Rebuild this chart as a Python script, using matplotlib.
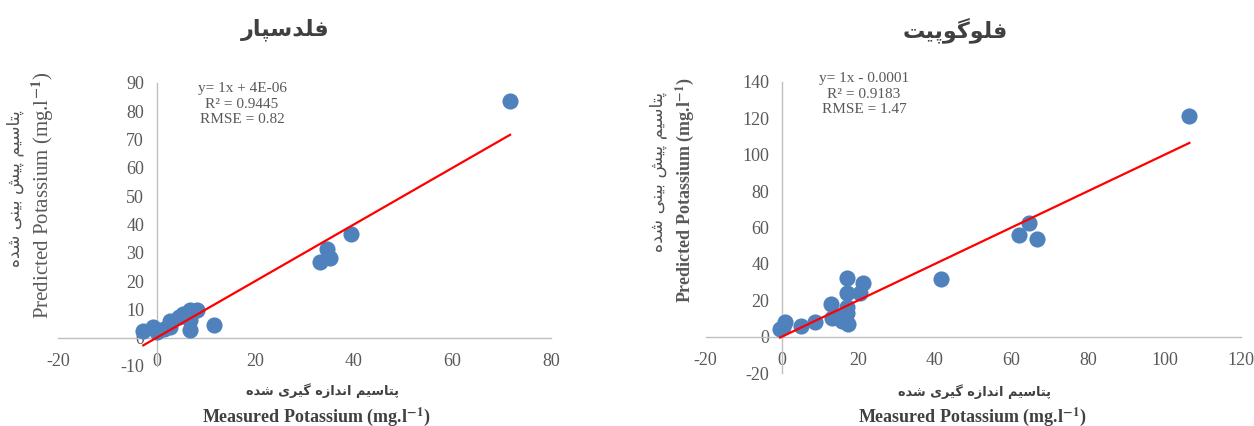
import numpy as np
import matplotlib
matplotlib.use("Agg")
import matplotlib.pyplot as plt

plt.rcParams['mathtext.fontset'] = 'stix'
plt.rcParams['axes.unicode_minus'] = False

# feldspar panel
feld_x = [71.7, 39.4, 34.6, 35.2, 33.1, 11.6, 8.1, 6.7, 6.7, 6.7, 4.6, 2.7, 2.7, 1.5, -0.8, -2.7, 0.0, 5.4]
feld_y = [83.5, 36.8, 31.2, 28.3, 26.8, 4.4, 9.9, 9.7, 6.1, 2.6, 7.3, 5.9, 3.8, 3.2, 3.8, 2.4, 2.0, 8.5]
feld_fit = (1.0, 4e-06)
feld_stats = ["y= 1x + 4E-06", "R² = 0.9445", "RMSE = 0.82"]

# phlogopite panel
phlo_x = [106.5, 64.6, 62.0, 66.7, 41.5, 17.0, 21.1, 17.0, 20.4, 12.9, 17.0, 17.0, 14.7, 13.2, 15.8, 17.3, 8.7, 4.9, 0.8, -0.5, 0.3]
phlo_y = [121.4, 62.6, 55.9, 53.7, 31.5, 32.0, 29.7, 24.2, 24.2, 17.9, 16.5, 12.8, 11.0, 10.1, 8.8, 7.0, 7.9, 6.0, 8.2, 4.0, 5.5]
phlo_fit = (1.0, -0.0001)
phlo_stats = ["y= 1x - 0.0001", "R² = 0.9183", "RMSE = 1.47"]

title_feld = "فلدسپار"
title_phlo = "فلوگوپیت"
ylab_fa = "پتاسیم پیش بینی شده"
xlab_fa = "پتاسیم اندازه گیری شده"
ylab_en = r"Predicted Potassium (mg.l$^{\mathbf{-1}}$)"
xlab_en = r"Measured Potassium (mg.l$^{\mathbf{-1}}$)"

# isolated, final, initial, medial
FORMS = {
    'ا': ('\uFE8D', '\uFE8E', None, None),
    'ب': ('\uFE8F', '\uFE90', '\uFE91', '\uFE92'),
    'پ': ('\uFB56', '\uFB57', '\uFB58', '\uFB59'),
    'ت': ('\uFE95', '\uFE96', '\uFE97', '\uFE98'),
    'د': ('\uFEA9', '\uFEAA', None, None),
    'ر': ('\uFEAD', '\uFEAE', None, None),
    'ز': ('\uFEAF', '\uFEB0', None, None),
    'س': ('\uFEB1', '\uFEB2', '\uFEB3', '\uFEB4'),
    'ش': ('\uFEB5', '\uFEB6', '\uFEB7', '\uFEB8'),
    'ف': ('\uFED1', '\uFED2', '\uFED3', '\uFED4'),
    'گ': ('\uFB92', '\uFB93', '\uFB94', '\uFB95'),
    'ل': ('\uFEDD', '\uFEDE', '\uFEDF', '\uFEE0'),
    'م': ('\uFEE1', '\uFEE2', '\uFEE3', '\uFEE4'),
    'ن': ('\uFEE5', '\uFEE6', '\uFEE7', '\uFEE8'),
    'ه': ('\uFEE9', '\uFEEA', '\uFEEB', '\uFEEC'),
    'و': ('\uFEED', '\uFEEE', None, None),
    'ی': ('\uFBFC', '\uFBFD', '\uFBFE', '\uFBFF'),
}

def fa(s):
    # crude persian shaping, then reverse for display
    out = []
    for i, c in enumerate(s):
        if c not in FORMS:
            out.append(c)
            continue
        prev = s[i-1] if i > 0 else None
        nxt = s[i+1] if i+1 < len(s) else None
        jp = prev in FORMS and FORMS[prev][2] is not None
        jn = FORMS[c][2] is not None and nxt in FORMS
        iso, fin, ini, med = FORMS[c]
        if jp and jn:
            out.append(med)
        elif jp:
            out.append(fin)
        elif jn:
            out.append(ini)
        else:
            out.append(iso)
    return ''.join(out)[::-1]

W, H = 1254, 426
fig = plt.figure(figsize=(W/100, H/100), dpi=100)

def px(x, y):
    return x / W, 1 - y / H

def panel(rect, xs, ys, fit, xlim, ylim, xstep, ystep):
    ax = fig.add_axes(rect)
    ax.scatter(xs, ys, s=135, color='#4F81BD', zorder=3, linewidths=0)
    lx = np.array([min(xs), max(xs)])
    ax.plot(lx, fit[0]*lx + fit[1], color='#FF0000', lw=1.6, zorder=4)
    ax.set_xlim(*xlim)
    ax.set_ylim(*ylim)
    ax.set_xticks(np.arange(xlim[0], xlim[1] + 1, xstep))
    ax.set_yticks(np.arange(ylim[0], ylim[1] + 1, ystep))
    for side in ['top', 'right']:
        ax.spines[side].set_visible(False)
    for side in ['left', 'bottom']:
        ax.spines[side].set_position(('data', 0))
        ax.spines[side].set_color('#BFBFBF')
        ax.spines[side].set_linewidth(1.0)
    ax.tick_params(length=0, labelsize=13, labelcolor='#595959', pad=9)
    ax.tick_params(axis='x', pad=11)
    for lab in ax.get_xticklabels() + ax.get_yticklabels():
        lab.set_fontfamily('Liberation Serif')
    ax.patch.set_alpha(0)
    return ax

ax1 = panel([58/W, 1-366/H, 493/W, 283/H], feld_x, feld_y, feld_fit, (-20, 80), (-10, 90), 20, 10)
ax2 = panel([705.5/W, 1-373/H, 535.5/W, 291/H], phlo_x, phlo_y, phlo_fit, (-20, 120), (-20, 140), 20, 20)

tc = '#404040'
fig.text(*px(285, 30), fa(title_feld), ha='center', va='center', fontsize=16, fontweight='bold', family='DejaVu Sans', color=tc)
fig.text(*px(955, 30), fa(title_phlo), ha='center', va='center', fontsize=16, fontweight='bold', family='DejaVu Sans', color=tc)

# y labels
fig.text(*px(15, 189), fa(ylab_fa), rotation=90, ha='center', va='center', fontsize=12.3, family='DejaVu Sans', color='#505050')
fig.text(*px(43, 195), ylab_en, rotation=90, ha='center', va='center', fontsize=15, family='Liberation Serif', color='#595959')
fig.text(*px(658, 172), fa(ylab_fa), rotation=90, ha='center', va='center', fontsize=12.6, family='DejaVu Sans', color='#505050')
fig.text(*px(685, 190), ylab_en, rotation=90, ha='center', va='center', fontsize=13, fontweight='bold', family='Liberation Serif', color='#595959')

# x labels
fig.text(*px(322, 391), fa(xlab_fa), ha='center', va='center', fontsize=9.3, fontweight='bold', family='DejaVu Sans', color=tc)
fig.text(*px(316, 417), xlab_en, ha='center', va='center', fontsize=13, fontweight='bold', family='Liberation Serif', color=tc)
fig.text(*px(974, 392), fa(xlab_fa), ha='center', va='center', fontsize=9.3, fontweight='bold', family='DejaVu Sans', color=tc)
fig.text(*px(972, 417), xlab_en, ha='center', va='center', fontsize=13, fontweight='bold', family='Liberation Serif', color=tc)

# regression stats
fig.text(*px(242, 104), "\n".join(feld_stats), ha='center', va='center', fontsize=11, family='Liberation Serif', color='#595959', linespacing=1.25)
fig.text(*px(864, 94), "\n".join(phlo_stats), ha='center', va='center', fontsize=11, family='Liberation Serif', color='#595959', linespacing=1.25)

fig.savefig('out.png', dpi=100)
